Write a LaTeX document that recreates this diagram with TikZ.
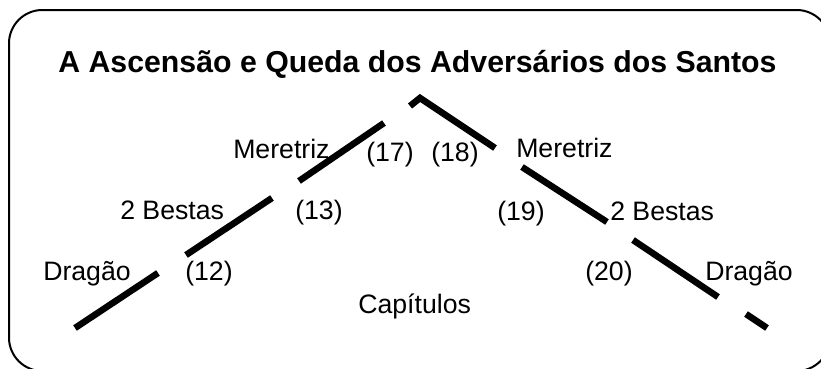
\documentclass[tikz,border=0pt]{standalone}
\usepackage{fontspec}
\setmainfont{Liberation Sans}
\begin{document}
\begin{tikzpicture}[x=0.75pt,y=-0.75pt,
  lbl/.style={inner sep=0pt,anchor=base west,font=\fontsize{20}{24}\selectfont},
  ttl/.style={inner sep=0pt,anchor=base,font=\bfseries\fontsize{22.7}{27}\selectfont},
  seg/.style={line width=4.9pt,line cap=butt,line join=miter},
  frame/.style={line width=1.5pt,rounded corners=25pt}]
\useasboundingbox (0,0) rectangle (821,368);
\clip (0,0) rectangle (821,368);
\draw[frame] (9,10) rectangle (830,371);
\node[ttl] (title) at (417.5,72) {A Ascensão e Queda dos Adversários dos Santos};
% segment end points
\coordinate (a1) at (75,328);  \coordinate (a2) at (158,273);
\coordinate (b1) at (186,255); \coordinate (b2) at (272,198);
\coordinate (c1) at (299,181); \coordinate (c2) at (384,123);
\coordinate (p1) at (410,106); \coordinate (p2) at (420,98); \coordinate (p3) at (495,148);
\coordinate (d1) at (522,167); \coordinate (d2) at (607,222);
\coordinate (e1) at (633,240); \coordinate (e2) at (718,297);
\coordinate (f1) at (746,314); \coordinate (f2) at (767,328);
\draw[seg] (a1) -- (a2);
\draw[seg] (b1) -- (b2);
\draw[seg] (c1) -- (c2);
\draw[seg] (p1) -- (p2) -- (p3);
\draw[seg] (d1) -- (d2);
\draw[seg] (e1) -- (e2);
\draw[seg] (f1) -- (f2);
% labels
\node[lbl] (merL) at (233,158) {Meretriz};
\node[lbl] (c17) at (366,161) {(17)};
\node[lbl] (c18) at (431,161) {(18)};
\node[lbl] (merR) at (516,157) {Meretriz};
\node[lbl] (besL) at (120,219) {2 Bestas};
\node[lbl] (c13) at (295,219) {(13)};
\node[lbl] (c19) at (497,220) {(19)};
\node[lbl] (besR) at (610,220) {2 Bestas};
\node[lbl] (draL) at (43,280) {Dragão};
\node[lbl] (c12) at (185,280) {(12)};
\node[lbl] (c20) at (585,280) {(20)};
\node[lbl] (draR) at (705,280) {Dragão};
\node[lbl] (cap) at (358,313) {Capítulos};
\end{tikzpicture}
\end{document}
